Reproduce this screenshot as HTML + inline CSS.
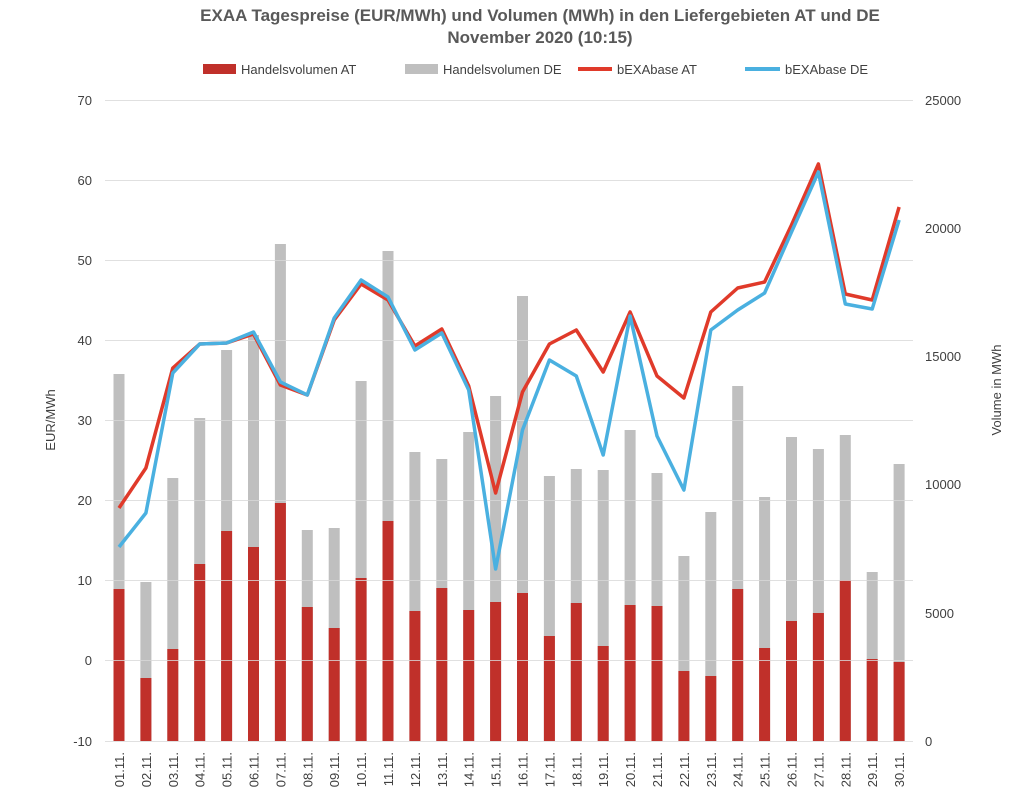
<!DOCTYPE html>
<html><head><meta charset="utf-8"><style>
body{margin:0;background:#fff;}
svg{display:block;font-family:"Liberation Sans",Arial,sans-serif;}
</style></head><body>
<svg width="1024" height="808" viewBox="0 0 1024 808">
<text x="540" y="21" text-anchor="middle" font-size="17" font-weight="bold" fill="#595959">EXAA Tagespreise (EUR/MWh) und Volumen (MWh) in den Liefergebieten AT und DE</text>
<text x="540" y="43" text-anchor="middle" font-size="17" font-weight="bold" fill="#595959">November 2020 (10:15)</text>
<g font-size="13" fill="#404040">
<rect x="203" y="64" width="33" height="10" fill="#c0302a"/><text x="241" y="74">Handelsvolumen AT</text>
<rect x="405" y="64" width="33" height="10" fill="#bfbfbf"/><text x="443" y="74">Handelsvolumen DE</text>
<line x1="578" y1="69" x2="612" y2="69" stroke="#e03a2a" stroke-width="4"/><text x="617" y="74">bEXAbase AT</text>
<line x1="745" y1="69" x2="780" y2="69" stroke="#4ab0e0" stroke-width="4"/><text x="785" y="74">bEXAbase DE</text>
</g>
<g font-size="13" fill="#404040" text-anchor="end">
<text x="92" y="105">70</text><text x="92" y="185">60</text><text x="92" y="265">50</text><text x="92" y="345">40</text><text x="92" y="425">30</text><text x="92" y="505">20</text><text x="92" y="585">10</text><text x="92" y="665">0</text><text x="92" y="746">-10</text>
</g>
<g font-size="13" fill="#404040">
<text x="925" y="105">25000</text><text x="925" y="233">20000</text><text x="925" y="361">15000</text><text x="925" y="489">10000</text><text x="925" y="618">5000</text><text x="925" y="746">0</text>
</g>
<text transform="translate(55,420) rotate(-90)" text-anchor="middle" font-size="13" fill="#404040">EUR/MWh</text>
<text transform="translate(1001,390) rotate(-90)" text-anchor="middle" font-size="13" fill="#404040">Volume in MWh</text>
<g fill="#bfbfbf">
<rect x="113.5" y="374" width="11" height="367"/><rect x="140.4" y="582" width="11" height="159"/><rect x="167.3" y="478" width="11" height="263"/><rect x="194.2" y="418" width="11" height="323"/><rect x="221.1" y="350" width="11" height="391"/><rect x="248" y="335" width="11" height="406"/><rect x="274.9" y="244" width="11" height="497"/><rect x="301.8" y="530" width="11" height="211"/><rect x="328.7" y="528" width="11" height="213"/><rect x="355.6" y="381" width="11" height="360"/><rect x="382.5" y="251" width="11" height="490"/><rect x="409.4" y="452" width="11" height="289"/><rect x="436.3" y="459" width="11" height="282"/><rect x="463.2" y="432" width="11" height="309"/><rect x="490.1" y="396" width="11" height="345"/><rect x="517" y="296" width="11" height="445"/><rect x="543.9" y="476" width="11" height="265"/><rect x="570.8" y="469" width="11" height="272"/><rect x="597.7" y="470" width="11" height="271"/><rect x="624.6" y="430" width="11" height="311"/><rect x="651.5" y="473" width="11" height="268"/><rect x="678.4" y="556" width="11" height="185"/><rect x="705.3" y="512" width="11" height="229"/><rect x="732.2" y="386" width="11" height="355"/><rect x="759.1" y="497" width="11" height="244"/><rect x="786" y="437" width="11" height="304"/><rect x="812.9" y="449" width="11" height="292"/><rect x="839.8" y="435" width="11" height="306"/><rect x="866.7" y="572" width="11" height="169"/><rect x="893.6" y="464" width="11" height="277"/>
</g>
<g fill="#c0302a">
<rect x="113.5" y="589" width="11" height="152"/><rect x="140.4" y="678" width="11" height="63"/><rect x="167.3" y="649" width="11" height="92"/><rect x="194.2" y="564" width="11" height="177"/><rect x="221.1" y="531" width="11" height="210"/><rect x="248" y="547" width="11" height="194"/><rect x="274.9" y="503" width="11" height="238"/><rect x="301.8" y="607" width="11" height="134"/><rect x="328.7" y="628" width="11" height="113"/><rect x="355.6" y="578" width="11" height="163"/><rect x="382.5" y="521" width="11" height="220"/><rect x="409.4" y="611" width="11" height="130"/><rect x="436.3" y="588" width="11" height="153"/><rect x="463.2" y="610" width="11" height="131"/><rect x="490.1" y="602" width="11" height="139"/><rect x="517" y="593" width="11" height="148"/><rect x="543.9" y="636" width="11" height="105"/><rect x="570.8" y="603" width="11" height="138"/><rect x="597.7" y="646" width="11" height="95"/><rect x="624.6" y="605" width="11" height="136"/><rect x="651.5" y="606" width="11" height="135"/><rect x="678.4" y="671" width="11" height="70"/><rect x="705.3" y="676" width="11" height="65"/><rect x="732.2" y="589" width="11" height="152"/><rect x="759.1" y="648" width="11" height="93"/><rect x="786" y="621" width="11" height="120"/><rect x="812.9" y="613" width="11" height="128"/><rect x="839.8" y="580" width="11" height="161"/><rect x="866.7" y="659" width="11" height="82"/><rect x="893.6" y="662" width="11" height="79"/>
</g>
<g stroke="#d9d9d9" stroke-width="1" opacity="0.8">
<line x1="105" y1="100.5" x2="913" y2="100.5"/><line x1="105" y1="180.5" x2="913" y2="180.5"/><line x1="105" y1="260.5" x2="913" y2="260.5"/><line x1="105" y1="340.5" x2="913" y2="340.5"/><line x1="105" y1="420.5" x2="913" y2="420.5"/><line x1="105" y1="500.5" x2="913" y2="500.5"/><line x1="105" y1="580.5" x2="913" y2="580.5"/><line x1="105" y1="660.5" x2="913" y2="660.5"/><line x1="105" y1="741.5" x2="913" y2="741.5"/>
</g>
<polyline fill="none" stroke="#e03a2a" stroke-width="3.5" stroke-linejoin="round" points="119,508 145.9,468 172.8,368 199.7,344 226.6,343 253.5,334 280.4,385 307.3,395 334.2,320 361.1,284 388,300 414.9,346 441.8,329 468.7,386 495.6,493 522.5,392 549.4,344 576.3,330 603.2,372 630.1,312 657,376 683.9,398 710.8,312 737.7,288 764.6,282 791.5,225 818.4,164 845.3,294 872.2,300 899.1,207"/>
<polyline fill="none" stroke="#4ab0e0" stroke-width="3.5" stroke-linejoin="round" points="119,547 145.9,513 172.8,373 199.7,344 226.6,343 253.5,332 280.4,382 307.3,395 334.2,318 361.1,280 388,297 414.9,350 441.8,333 468.7,390 495.6,569 522.5,430 549.4,360 576.3,376 603.2,455 630.1,316 657,436 683.9,490 710.8,330 737.7,310 764.6,293 791.5,232 818.4,172 845.3,304 872.2,309 899.1,220"/>
<g font-size="13" fill="#404040" text-anchor="end">
<text transform="translate(124,752) rotate(-90)">01.11.</text><text transform="translate(150.9,752) rotate(-90)">02.11.</text><text transform="translate(177.8,752) rotate(-90)">03.11.</text><text transform="translate(204.7,752) rotate(-90)">04.11.</text><text transform="translate(231.6,752) rotate(-90)">05.11.</text><text transform="translate(258.5,752) rotate(-90)">06.11.</text><text transform="translate(285.4,752) rotate(-90)">07.11.</text><text transform="translate(312.3,752) rotate(-90)">08.11.</text><text transform="translate(339.2,752) rotate(-90)">09.11.</text><text transform="translate(366.1,752) rotate(-90)">10.11.</text><text transform="translate(393,752) rotate(-90)">11.11.</text><text transform="translate(419.9,752) rotate(-90)">12.11.</text><text transform="translate(446.8,752) rotate(-90)">13.11.</text><text transform="translate(473.7,752) rotate(-90)">14.11.</text><text transform="translate(500.6,752) rotate(-90)">15.11.</text><text transform="translate(527.5,752) rotate(-90)">16.11.</text><text transform="translate(554.4,752) rotate(-90)">17.11.</text><text transform="translate(581.3,752) rotate(-90)">18.11.</text><text transform="translate(608.2,752) rotate(-90)">19.11.</text><text transform="translate(635.1,752) rotate(-90)">20.11.</text><text transform="translate(662,752) rotate(-90)">21.11.</text><text transform="translate(688.9,752) rotate(-90)">22.11.</text><text transform="translate(715.8,752) rotate(-90)">23.11.</text><text transform="translate(742.7,752) rotate(-90)">24.11.</text><text transform="translate(769.6,752) rotate(-90)">25.11.</text><text transform="translate(796.5,752) rotate(-90)">26.11.</text><text transform="translate(823.4,752) rotate(-90)">27.11.</text><text transform="translate(850.3,752) rotate(-90)">28.11.</text><text transform="translate(877.2,752) rotate(-90)">29.11.</text><text transform="translate(904.1,752) rotate(-90)">30.11.</text>
</g>
</svg>
</body></html>
